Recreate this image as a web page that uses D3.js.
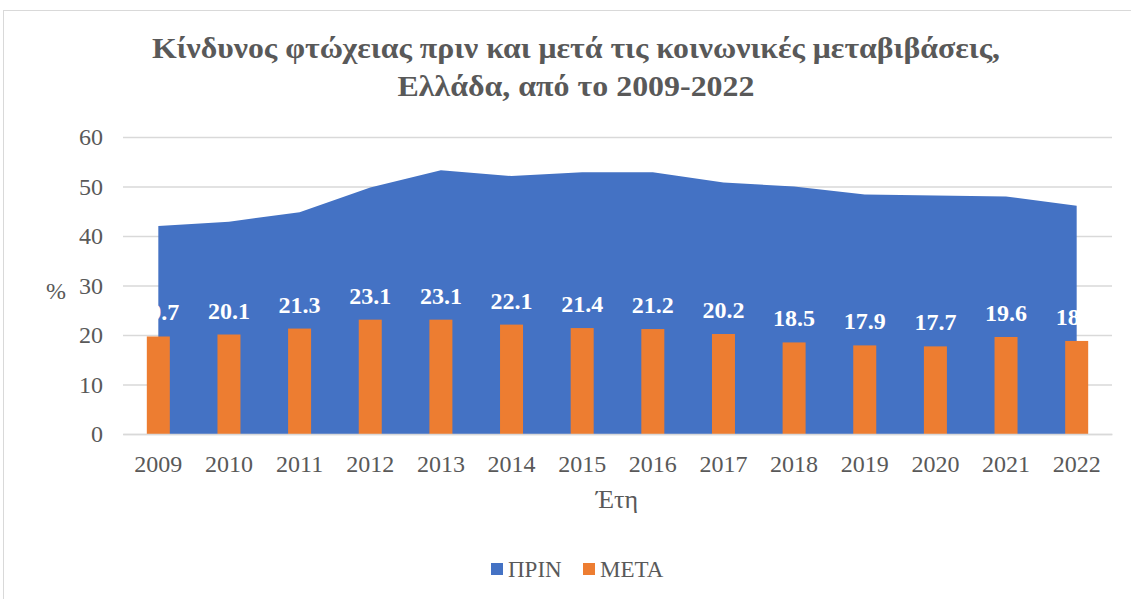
<!DOCTYPE html>
<html><head><meta charset="utf-8">
<script src="https://cdn.jsdelivr.net/npm/d3@7"></script>
<style>body{margin:0;background:#fff}svg{display:block}</style>
</head><body>
<script>
const years = ["2009","2010","2011","2012","2013","2014","2015","2016","2017","2018","2019","2020","2021","2022"];
const prin = [42.0,42.9,44.8,49.8,53.3,52.1,52.9,52.9,50.8,50.0,48.4,48.2,48.0,46.1];
const meta = [19.7,20.1,21.3,23.1,23.1,22.1,21.4,21.2,20.2,18.5,17.9,17.7,19.6,18.8];
const yTicks = [0,10,20,30,40,50,60];
const titleLines = ["Κίνδυνος φτώχειας πριν και μετά τις κοινωνικές μεταβιβάσεις,","Ελλάδα, από το 2009-2022"];
const seriesNames = ["ΠΡΙΝ","ΜΕΤΑ"];
const colors = ["#4472C4","#ED7D31"];

const W=1131,H=599;
const svg=d3.select("body").append("svg").attr("width",W).attr("height",H);
const serif="'Liberation Serif','Times New Roman',serif";
svg.append("rect").attr("x",3.5).attr("y",10.5).attr("width",W+10).attr("height",H+10)
  .attr("fill","#fff").attr("stroke","#d9d9d9");

const x=d3.scaleBand().domain(years).range([123,1112]);
const y=d3.scaleLinear().domain([0,60]).range([434,137]);

// title
const titleW=[848,357];
svg.append("g").selectAll("text").data(titleLines).join("text")
  .attr("x",576).attr("y",(d,i)=>58+i*38).attr("text-anchor","middle")
  .attr("font-family",serif).attr("font-weight","bold").attr("font-size",29)
  .attr("textLength",(d,i)=>titleW[i]).attr("lengthAdjust","spacingAndGlyphs")
  .attr("fill","#595959").text(d=>d);

// grid
const ga=svg.append("g").attr("transform","translate(123,0)")
  .call(d3.axisLeft(y).tickValues(yTicks).tickSize(-(1112-123)).tickFormat(d3.format("d")).tickPadding(20));
ga.select(".domain").remove();
ga.selectAll(".tick line").attr("stroke","#d9d9d9").attr("stroke-width",1.3);
ga.selectAll(".tick text").attr("font-family",serif).attr("font-size",24).attr("fill","#595959");

// area
const area=d3.area().x((d,i)=>x(years[i])+x.bandwidth()/2).y0(y(0)).y1(d=>y(d));
svg.append("path").datum(prin).attr("d",area).attr("fill",colors[0]);

// bars
const bw=23;
svg.append("g").selectAll("rect").data(meta).join("rect")
  .attr("x",(d,i)=>x(years[i])+x.bandwidth()/2-bw/2).attr("width",bw)
  .attr("y",d=>y(d)).attr("height",d=>y(0)-y(d)).attr("fill",colors[1]);

// labels
svg.append("g").selectAll("text").data(meta).join("text")
  .attr("x",(d,i)=>x(years[i])+x.bandwidth()/2).attr("y",d=>y(d)-16)
  .attr("text-anchor","middle").attr("font-family",serif).attr("font-weight","bold")
  .attr("font-size",24).attr("fill","#fff").text(d=>d3.format(".1f")(d));

// x axis
const xa=svg.append("g").attr("transform","translate(0,434)").call(d3.axisBottom(x).tickSize(0).tickPadding(21));
xa.select(".domain").attr("stroke","#d9d9d9").attr("stroke-width",1.3);
xa.selectAll(".tick text").attr("font-family",serif).attr("font-size",24).attr("fill","#595959");

svg.append("text").attr("x",617).attr("y",508).attr("text-anchor","middle")
  .attr("font-family",serif).attr("font-size",26).attr("fill","#595959").text("Έτη");
svg.append("text").attr("x",56).attr("y",299).attr("text-anchor","middle")
  .attr("font-family",serif).attr("font-size",24).attr("fill","#595959").text("%");

// legend
const lg=svg.append("g");
const lx=[491,583];
seriesNames.forEach((n,i)=>{
  lg.append("rect").attr("x",lx[i]).attr("y",563).attr("width",12).attr("height",12).attr("fill",colors[i]);
  lg.append("text").attr("x",lx[i]+17).attr("y",577).attr("font-family",serif).attr("font-size",23)
    .attr("fill","#595959").text(n);
});
</script>
</body></html>
